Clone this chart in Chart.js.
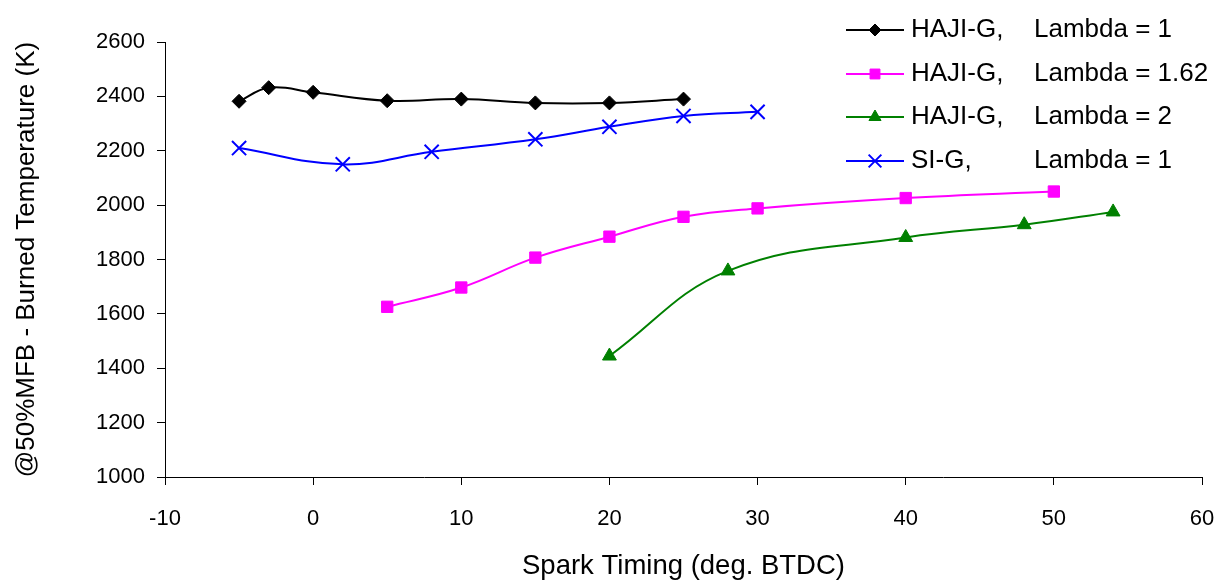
<!DOCTYPE html>
<html>
<head>
<meta charset="utf-8">
<script src="https://cdn.jsdelivr.net/npm/chart.js@4.4.1/dist/chart.umd.min.js"></script>
<style>
  html, body { margin: 0; padding: 0; background: #fff; }
  #wrap { width: 1222px; height: 583px; }
</style>
</head>
<body>
<div id="wrap"><canvas id="chart" width="1222" height="583"></canvas></div>
<script>
// Données
const xTicks = [-10, 0, 10, 20, 30, 40, 50, 60];
const yTicks = [1000, 1200, 1400, 1600, 1800, 2000, 2200, 2400, 2600];

const hajiL1X = [-5, -3, 0, 5, 10, 15, 20, 25];
const hajiL1Y = [2382, 2432, 2415, 2384, 2390, 2376, 2376, 2390];

const hajiL162X = [5, 10, 15, 20, 25, 30, 40, 50];
const hajiL162Y = [1626, 1697, 1807, 1884, 1957, 1988, 2026, 2050];

const hajiL2X = [20, 28, 40, 48, 54];
const hajiL2Y = [1445, 1758, 1881, 1928, 1975];

const siL1X = [-5, 2, 8, 15, 20, 25, 30];
const siL1Y = [2210, 2150, 2196, 2242, 2288, 2328, 2343];

const seriesNames = [
    ['HAJI-G,', 'Lambda = 1'],
    ['HAJI-G,', 'Lambda = 1.62'],
    ['HAJI-G,', 'Lambda = 2'],
    ['SI-G,', 'Lambda = 1']
];

function toPoints(xs, ys) {
    return xs.map((x, i) => ({ x: x, y: ys[i] }));
}

const FONT = 'Arial, "Liberation Sans", sans-serif';

// Légende dessinée à la main (ligne + marqueur)
const legendPlugin = {
    id: 'excelLegend',
    afterDraw(chart) {
        const ctx = chart.ctx;
        const rows = [30, 74, 117, 161];
        ctx.save();
        chart.data.datasets.forEach((ds, i) => {
            const y = rows[i];
            ctx.strokeStyle = ds.borderColor;
            ctx.lineWidth = 2;
            ctx.beginPath();
            ctx.moveTo(846, y);
            ctx.lineTo(904, y);
            ctx.stroke();
            ctx.fillStyle = ds.borderColor;
            ctx.strokeStyle = ds.borderColor;
            ctx.lineWidth = ds.pointBorderWidth;
            Chart.helpers.drawPoint(ctx, {
                pointStyle: ds.pointStyle,
                radius: ds.pointRadius - 1,
                rotation: 0,
                borderWidth: ds.pointBorderWidth
            }, 875, y);
            ctx.fillStyle = '#000';
            ctx.font = '26px ' + FONT;
            ctx.textBaseline = 'middle';
            ctx.textAlign = 'left';
            ctx.fillText(seriesNames[i][0], 911, y);
            ctx.fillText(seriesNames[i][1], 1034, y);
        });
        ctx.restore();
    }
};

function makeDataset(label, xs, ys, color, style, radius, bw) {
    return {
        label: label,
        data: toPoints(xs, ys),
        borderColor: color,
        backgroundColor: color,
        pointBackgroundColor: color,
        pointBorderColor: color,
        pointStyle: style,
        pointRadius: radius,
        pointBorderWidth: bw,
        borderWidth: 2,
        tension: 0.4,
        fill: false
    };
}

const ctx = document.getElementById('chart').getContext('2d');
new Chart(ctx, {
    type: 'line',
    data: {
        datasets: [
            makeDataset('HAJI-G, Lambda = 1', hajiL1X, hajiL1Y, '#000000', 'rectRot', 7, 1),
            makeDataset('HAJI-G, Lambda = 1.62', hajiL162X, hajiL162Y, '#FF00FF', 'rect', 8, 1),
            makeDataset('HAJI-G, Lambda = 2', hajiL2X, hajiL2Y, '#008000', 'triangle', 8, 1),
            makeDataset('SI-G, Lambda = 1', siL1X, siL1Y, '#0000FF', 'crossRot', 10, 2)
        ]
    },
    options: {
        responsive: false,
        animation: false,
        layout: { padding: { top: 42, right: 20, left: 0, bottom: 0 } },
        plugins: {
            legend: { display: false },
            tooltip: { enabled: false }
        },
        scales: {
            x: {
                type: 'linear',
                min: xTicks[0],
                max: xTicks[xTicks.length - 1],
                afterBuildTicks: (scale) => { scale.ticks = xTicks.map(v => ({ value: v })); },
                afterFit: (scale) => {
                    scale.height = 106;
                    scale.paddingLeft = 0;
                    scale.paddingRight = 0;
                },
                ticks: { color: '#000', font: { size: 22, family: FONT }, padding: 21, maxRotation: 0,
                         callback: (v) => String(v) },
                grid: { drawOnChartArea: false, drawTicks: true, tickLength: 8, color: '#000' },
                border: { color: '#000', width: 1 },
                title: {
                    display: true,
                    text: 'Spark Timing (deg. BTDC)',
                    color: '#000',
                    font: { size: 27.5, family: FONT },
                    padding: { top: 0, bottom: 0 }
                }
            },
            y: {
                type: 'linear',
                min: yTicks[0],
                max: yTicks[yTicks.length - 1],
                afterBuildTicks: (scale) => { scale.ticks = yTicks.map(v => ({ value: v })); },
                afterFit: (scale) => { scale.width = 165; },
                ticks: { color: '#000', font: { size: 22, family: FONT }, padding: 12,
                         callback: (v) => String(v) },
                grid: { drawOnChartArea: false, drawTicks: true, tickLength: 8, color: '#000' },
                border: { color: '#000', width: 1 },
                title: {
                    display: true,
                    text: '@50%MFB - Burned Temperature (K)',
                    color: '#000',
                    font: { size: 26, family: FONT },
                    padding: { top: 11, bottom: 0 }
                }
            }
        }
    },
    plugins: [legendPlugin]
});
</script>
</body>
</html>
